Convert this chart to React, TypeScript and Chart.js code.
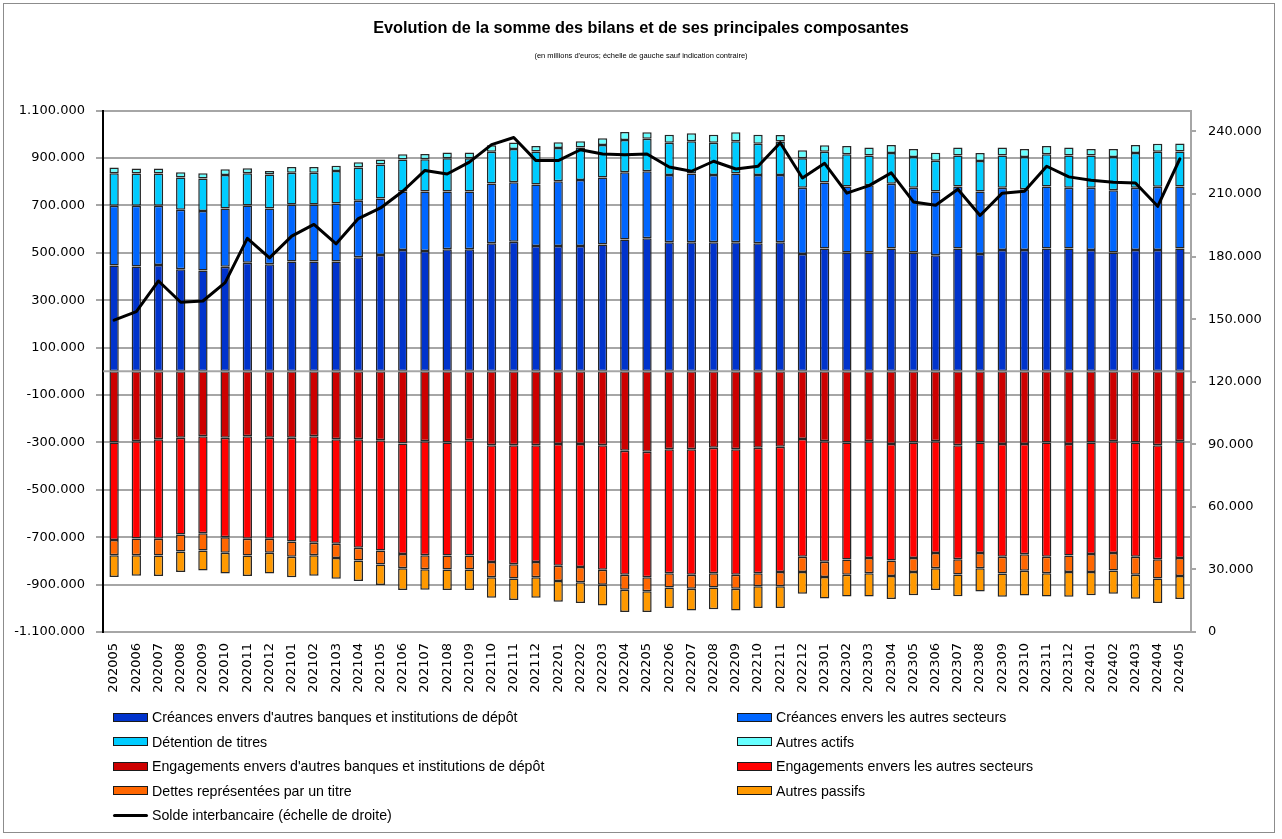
import React, { useEffect, useRef } from "react";
import { Chart, registerables } from "chart.js";

Chart.register(...registerables);

const categories = [
  "202005", "202006", "202007", "202008", "202009", "202010", "202011", "202012",
  "202101", "202102", "202103", "202104", "202105", "202106", "202107", "202108",
  "202109", "202110", "202111", "202112", "202201", "202202", "202203", "202204",
  "202205", "202206", "202207", "202208", "202209", "202210", "202211", "202212",
  "202301", "202302", "202303", "202304", "202305", "202306", "202307", "202308",
  "202309", "202310", "202311", "202312", "202401", "202402", "202403", "202404",
  "202405",
];

const creancesBanques = [
  446000, 442000, 448000, 431000, 425000, 441000, 458000, 452000, 463000, 463000,
  463000, 481000, 491000, 512000, 507000, 515000, 515000, 540000, 546000, 529000,
  529000, 529000, 535000, 556000, 561000, 544000, 544000, 544000, 544000, 540000,
  544000, 495000, 518000, 501000, 501000, 518000, 501000, 490000, 518000, 495000,
  512000, 512000, 518000, 518000, 512000, 501000, 512000, 512000, 518000,
];

const creancesAutres = [
  252000, 256000, 250000, 251000, 251000, 246000, 241000, 235000, 241000, 241000,
  245000, 239000, 238000, 246000, 252000, 244000, 244000, 252000, 252000, 259000,
  273000, 278000, 283000, 284000, 283000, 284000, 290000, 284000, 290000, 288000,
  284000, 279000, 278000, 279000, 284000, 273000, 273000, 269000, 262000, 263000,
  262000, 256000, 262000, 256000, 262000, 263000, 262000, 267000, 262000,
];

const detentionTitres = [
  137000, 136000, 136000, 136000, 137000, 141000, 136000, 143000, 134000, 134000,
  137000, 140000, 143000, 136000, 136000, 140000, 140000, 134000, 140000, 139000,
  140000, 137000, 137000, 136000, 137000, 136000, 136000, 136000, 136000, 132000,
  141000, 125000, 130000, 136000, 125000, 130000, 130000, 129000, 130000, 129000,
  136000, 136000, 136000, 136000, 136000, 140000, 147000, 147000, 147000,
];

const autresActifs = [
  25000, 22000, 22000, 22000, 22000, 24000, 22000, 15000, 24000, 24000,
  22000, 22000, 22000, 22000, 22000, 24000, 24000, 28000, 27000, 24000,
  24000, 27000, 28000, 34000, 28000, 34000, 34000, 34000, 39000, 38000,
  28000, 34000, 28000, 34000, 34000, 34000, 34000, 34000, 34000, 34000,
  34000, 34000, 34000, 34000, 28000, 34000, 34000, 34000, 34000,
];

const engagementsBanques = [
  -301000, -295000, -287000, -280000, -274000, -280000, -274000, -280000, -280000, -274000,
  -287000, -287000, -291000, -305000, -295000, -301000, -291000, -312000, -312000, -312000,
  -307000, -307000, -312000, -335000, -339000, -329000, -329000, -323000, -329000, -323000,
  -318000, -286000, -295000, -301000, -295000, -307000, -301000, -295000, -312000, -301000,
  -307000, -307000, -301000, -307000, -301000, -295000, -301000, -312000, -295000,
];

const engagementsAutres = [
  -411000, -411000, -420000, -409000, -409000, -420000, -433000, -427000, -438000, -449000,
  -441000, -458000, -465000, -466000, -481000, -476000, -486000, -493000, -502000, -493000,
  -514000, -519000, -525000, -523000, -530000, -523000, -529000, -529000, -529000, -529000,
  -529000, -497000, -509000, -493000, -493000, -491000, -487000, -472000, -481000, -466000,
  -476000, -465000, -481000, -470000, -470000, -472000, -481000, -481000, -493000,
];

const dettesTitre = [
  -64000, -70000, -70000, -71000, -73000, -66000, -70000, -59000, -64000, -53000,
  -60000, -53000, -59000, -60000, -59000, -59000, -59000, -64000, -60000, -64000,
  -64000, -64000, -64000, -64000, -59000, -60000, -60000, -60000, -60000, -55000,
  -60000, -64000, -64000, -64000, -64000, -66000, -59000, -64000, -64000, -64000,
  -70000, -70000, -70000, -70000, -76000, -74000, -76000, -81000, -76000,
];

const autresPassifs = [
  -92000, -87000, -87000, -87000, -85000, -87000, -87000, -87000, -87000, -87000,
  -87000, -87000, -87000, -92000, -87000, -87000, -87000, -87000, -91000, -87000,
  -87000, -88000, -87000, -94000, -88000, -87000, -91000, -92000, -91000, -92000,
  -92000, -92000, -91000, -92000, -98000, -97000, -98000, -92000, -92000, -98000,
  -98000, -104000, -98000, -104000, -98000, -98000, -102000, -104000, -97000,
];

const soldeInterbancaire = [
  149500, 153600, 168300, 158100, 158700, 167500, 188700, 179400, 189800, 195400,
  186100, 198200, 203300, 211300, 221300, 219600, 225300, 233700, 237100, 226000,
  226000, 231200, 229200, 228800, 229200, 222900, 220900, 225700, 222000, 223300,
  234600, 217700, 224700, 210400, 214000, 220100, 206200, 204600, 212300, 199700,
  210400, 211300, 223300, 218200, 216600, 215600, 215300, 204100, 226900,
];

const leftTicks = [
  -1100000, -900000, -700000, -500000, -300000, -100000,
  100000, 300000, 500000, 700000, 900000, 1100000,
];
const rightTicks = [0, 30000, 60000, 90000, 120000, 150000, 180000, 210000, 240000];

const titleText = "Evolution de la somme des bilans et de ses principales composantes";
const subtitleText = "(en millions d'euros; échelle de gauche sauf indication contraire)";

const barSeries = [
  { label: "Créances envers d'autres banques et institutions de dépôt", data: creancesBanques, color: "#0033cc" },
  { label: "Créances envers les autres secteurs", data: creancesAutres, color: "#0066ff" },
  { label: "Détention de titres", data: detentionTitres, color: "#00ccff" },
  { label: "Autres actifs", data: autresActifs, color: "#66ffff" },
  { label: "Engagements envers d'autres banques et institutions de dépôt", data: engagementsBanques, color: "#cc0000" },
  { label: "Engagements envers les autres secteurs", data: engagementsAutres, color: "#ff0000" },
  { label: "Dettes représentées par un titre", data: dettesTitre, color: "#ff6600" },
  { label: "Autres passifs", data: autresPassifs, color: "#ff9900" },
];
const lineSeries = { label: "Solde interbancaire (échelle de droite)", data: soldeInterbancaire, color: "#000000" };

const fmt = (v: number) => {
  const s = Math.abs(Math.round(v)).toString().replace(/\B(?=(\d{3})+(?!\d))/g, ".");
  return (v < 0 ? "-" : "") + s;
};

const GRID = "#a6a6a6";
const TICK_FONT = { family: "'DejaVu Sans', Verdana, sans-serif", size: 13 };

const zeroLine = {
  id: "zeroLine",
  afterDatasetsDraw(chart: any) {
    const y = chart.scales.y.getPixelForValue(0);
    const { left, right } = chart.chartArea;
    const ctx = chart.ctx;
    ctx.save();
    ctx.strokeStyle = "rgba(150,150,150,0.85)";
    ctx.lineWidth = 2;
    ctx.beginPath();
    ctx.moveTo(left, y);
    ctx.lineTo(right, y);
    ctx.stroke();
    ctx.restore();
  },
};

function Legend() {
  const items = [...barSeries.map((s) => ({ ...s, kind: "box" })), { ...lineSeries, kind: "line" }];
  return (
    <>
      {items.map((it, i) => {
        const row = Math.floor(i / 2);
        const col = i % 2;
        const cy = 717 + row * 24.5;
        return (
          <div
            key={it.label}
            style={{
              position: "absolute",
              left: col === 0 ? 113 : 737,
              top: cy - 9,
              height: 18,
              display: "flex",
              alignItems: "center",
              whiteSpace: "nowrap",
              fontFamily: "'Liberation Sans', Arial, sans-serif",
              fontSize: 14.2,
              color: "#000",
            }}
          >
            {it.kind === "box" ? (
              <span
                style={{
                  display: "inline-block",
                  width: 33,
                  height: 7,
                  background: it.color,
                  border: "1px solid #1a1a1a",
                  marginRight: 4,
                }}
              />
            ) : (
              <span
                style={{
                  display: "inline-block",
                  width: 35,
                  height: 3,
                  background: it.color,
                  borderRadius: 2,
                  marginRight: 4,
                }}
              />
            )}
            <span>{it.label}</span>
          </div>
        );
      })}
    </>
  );
}

export default function App() {
  const ref = useRef<HTMLCanvasElement>(null);

  useEffect(() => {
    if (!ref.current) return;
    const datasets: any[] = [
      {
        type: "line",
        label: lineSeries.label,
        data: lineSeries.data,
        borderColor: lineSeries.color,
        backgroundColor: lineSeries.color,
        borderWidth: 3,
        pointRadius: 0,
        tension: 0,
        yAxisID: "y2",
        order: 0,
        borderJoinStyle: "round",
        borderCapStyle: "round",
      },
      ...barSeries.map((s) => ({
        type: "bar",
        label: s.label,
        data: s.data,
        backgroundColor: s.color,
        borderColor: "#262626",
        borderWidth: 1.5,
        borderSkipped: false,
        yAxisID: "y",
        stack: "bilan",
        order: 1,
        categoryPercentage: 1,
        barPercentage: 0.42,
      })),
    ];

    const chart = new Chart(ref.current, {
      type: "bar",
      data: { labels: categories, datasets },
      options: {
        animation: false,
        responsive: true,
        maintainAspectRatio: false,
        layout: { padding: { left: 0, right: 0, top: 0, bottom: 137 } },
        plugins: {
          legend: { display: false },
          tooltip: { enabled: false },
          title: {
            display: true,
            text: titleText,
            color: "#000",
            font: { family: "'Liberation Sans', Arial, sans-serif", size: 16.3, weight: "bold" },
            padding: { top: 19, bottom: 10 },
          },
          subtitle: {
            display: true,
            text: subtitleText,
            color: "#000",
            font: { family: "'Liberation Sans', Arial, sans-serif", size: 7.5 },
            padding: { top: 3, bottom: 50 },
          },
        },
        scales: {
          x: {
            stacked: true,
            grid: { display: false },
            border: { display: true, color: GRID, width: 2 },
            ticks: {
              autoSkip: false,
              minRotation: 90,
              maxRotation: 90,
              color: "#000",
              font: TICK_FONT,
              padding: 3,
            },
            afterFit(scale: any) {
              scale.height = 70;
            },
          },
          y: {
            stacked: true,
            position: "left",
            min: -1100000,
            max: 1100000,
            afterBuildTicks(scale: any) {
              scale.ticks = leftTicks.map((v) => ({ value: v }));
            },
            grid: { color: GRID, lineWidth: 2, tickLength: 7 },
            border: { display: true, color: "#000", width: 2 },
            ticks: {
              color: "#000",
              font: TICK_FONT,
              padding: 11,
              callback: (v: any) => fmt(Number(v)),
            },
            afterFit(scale: any) {
              scale.width = 103;
            },
          },
          y2: {
            stacked: false,
            position: "right",
            min: 0,
            max: 250000,
            afterBuildTicks(scale: any) {
              scale.ticks = rightTicks.map((v) => ({ value: v }));
            },
            grid: { drawOnChartArea: false, color: GRID, lineWidth: 2, tickLength: 5 },
            border: { display: true, color: GRID, width: 2 },
            ticks: {
              color: "#000",
              font: TICK_FONT,
              padding: 12,
              callback: (v: any) => fmt(Number(v)),
            },
            afterFit(scale: any) {
              scale.width = 91;
            },
          },
        },
      } as any,
      plugins: [zeroLine],
    } as any);

    return () => chart.destroy();
  }, []);

  return (
    <div style={{ position: "absolute", left: 0, top: 0, width: 1282, height: 839, background: "#fff", overflow: "hidden" }}>
      <div style={{ position: "absolute", left: 0, top: 0, width: 1282, height: 839 }}>
        <canvas ref={ref} />
      </div>
      <div
        style={{
          position: "absolute",
          left: 3,
          top: 3,
          width: 1270,
          height: 828,
          border: "1px solid #8c8c8c",
          pointerEvents: "none",
        }}
      />
      <Legend />
    </div>
  );
}
